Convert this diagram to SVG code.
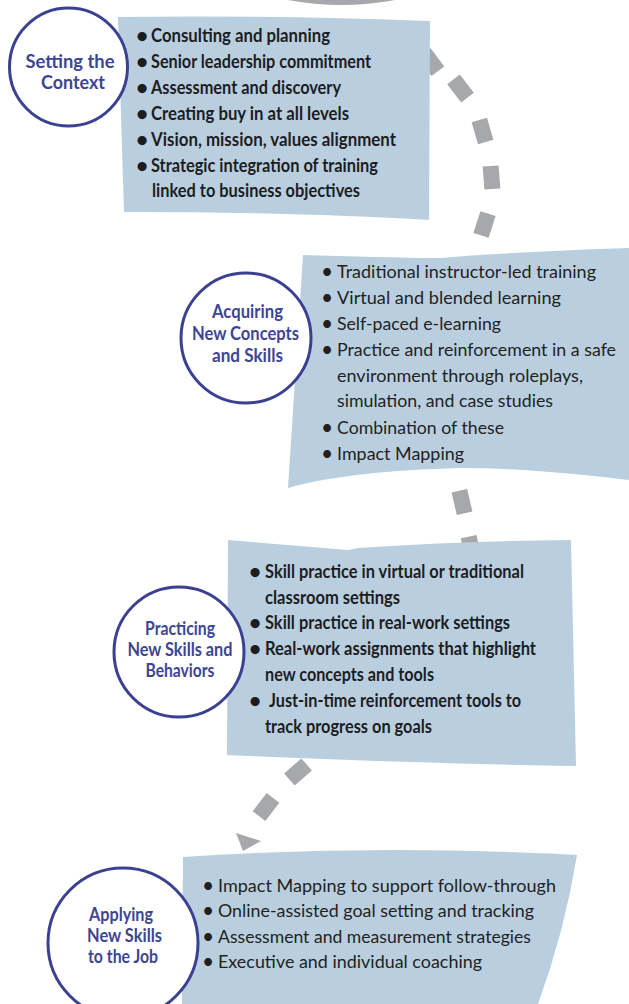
<svg xmlns="http://www.w3.org/2000/svg" width="629" height="1004" viewBox="0 0 629 1004">
<style>
.box{fill:#b9cfe0}
.ring{fill:#ffffff;stroke:#3b4191;stroke-width:3}
.lbl{font-family:Lato,"Open Sans",sans-serif;font-weight:700;font-size:18px;fill:#3d4594;text-anchor:middle}
.b{font-family:Lato,"Open Sans",sans-serif;font-weight:700;font-size:18px;fill:#1d1d1f}
.r{font-family:Lato,"Open Sans",sans-serif;font-weight:400;font-size:18px;fill:#231f20}
.bu{font-size:21px}
.dash{stroke:#a7a8ac;stroke-width:16;fill:none;stroke-linecap:butt}
.gray{fill:#a7a8ac}
</style>
<g id="connectors">
<path class="gray" d="M288,0 Q342,10 395,0 Z"/>
<path class="dash" d="M424.1,52.8 L437.9,71.2 M453.5,79.4 L467.5,97.6 M479.3,120 L485.7,142 M490.6,166 L492.4,189 M488,213.6 L481,235.4 M459.4,490.8 L464.6,513.2 M468.7,536.7 L473.3,559.3 M306.6,764.4 L289.4,779.6 M273,797.9 L259,816.1"/>
<polygon class="gray" points="236,833 261,841 243,851"/>
</g>
<g id="node-setting-context">
<path class="box" d="M118,17 Q270,15 430,21 L429,220 Q300,212 124,212 Z"/>
<circle class="ring" cx="68.5" cy="67" r="59"/>
<text class="lbl" x="70" y="68" textLength="89" lengthAdjust="spacingAndGlyphs">Setting the</text>
<text class="lbl" x="73" y="89" textLength="64" lengthAdjust="spacingAndGlyphs">Context</text>
<text class="b bu" x="136" y="43">•</text>
<text class="b" x="151" y="42" textLength="179" lengthAdjust="spacingAndGlyphs">Consulting and planning</text>
<text class="b bu" x="136" y="69">•</text>
<text class="b" x="151" y="68" textLength="220" lengthAdjust="spacingAndGlyphs">Senior leadership commitment</text>
<text class="b bu" x="136" y="95">•</text>
<text class="b" x="151" y="94" textLength="190" lengthAdjust="spacingAndGlyphs">Assessment and discovery</text>
<text class="b bu" x="136" y="121">•</text>
<text class="b" x="151" y="120" textLength="198" lengthAdjust="spacingAndGlyphs">Creating buy in at all levels</text>
<text class="b bu" x="136" y="147">•</text>
<text class="b" x="151" y="146" textLength="245" lengthAdjust="spacingAndGlyphs">Vision, mission, values alignment</text>
<text class="b bu" x="136" y="173">•</text>
<text class="b" x="151" y="172" textLength="227" lengthAdjust="spacingAndGlyphs">Strategic integration of training</text>
<text class="b" x="152" y="197" textLength="208" lengthAdjust="spacingAndGlyphs">linked to business objectives</text>
</g>
<g id="node-acquiring">
<path class="box" d="M303,255 C350,256 400,258 440,258 C500,253 570,250 629,248 L629,480 C580,474 520,468 460,468 C390,470 330,476 288,488 Z"/>
<circle class="ring" cx="246" cy="338" r="65"/>
<text class="lbl" x="247.5" y="318" textLength="71" lengthAdjust="spacingAndGlyphs">Acquiring</text>
<text class="lbl" x="245.5" y="340" textLength="107" lengthAdjust="spacingAndGlyphs">New Concepts</text>
<text class="lbl" x="247.5" y="362" textLength="71" lengthAdjust="spacingAndGlyphs">and Skills</text>
<text class="r bu" x="321" y="279">•</text>
<text class="r" x="337" y="278" textLength="259" lengthAdjust="spacingAndGlyphs">Traditional instructor-led training</text>
<text class="r bu" x="321" y="305">•</text>
<text class="r" x="337" y="304" textLength="224" lengthAdjust="spacingAndGlyphs">Virtual and blended learning</text>
<text class="r bu" x="321" y="331">•</text>
<text class="r" x="337" y="330" textLength="164" lengthAdjust="spacingAndGlyphs">Self-paced e-learning</text>
<text class="r bu" x="321" y="357">•</text>
<text class="r" x="337" y="356" textLength="279" lengthAdjust="spacingAndGlyphs">Practice and reinforcement in a safe</text>
<text class="r" x="337" y="382" textLength="246" lengthAdjust="spacingAndGlyphs">environment through roleplays,</text>
<text class="r" x="337" y="407" textLength="216" lengthAdjust="spacingAndGlyphs">simulation, and case studies</text>
<text class="r bu" x="321" y="435">•</text>
<text class="r" x="337" y="434" textLength="167" lengthAdjust="spacingAndGlyphs">Combination of these</text>
<text class="r bu" x="321" y="461">•</text>
<text class="r" x="337" y="460" textLength="127" lengthAdjust="spacingAndGlyphs">Impact Mapping</text>
</g>
<g id="node-practicing">
<path class="box" d="M228,540 L348,550 L358,548 Q460,541 571,540 L576,766 Q400,763 227,755 Z"/>
<circle class="ring" cx="179" cy="652" r="65"/>
<text class="lbl" x="180" y="635" textLength="70" lengthAdjust="spacingAndGlyphs">Practicing</text>
<text class="lbl" x="180" y="656" textLength="105" lengthAdjust="spacingAndGlyphs">New Skills and</text>
<text class="lbl" x="180" y="677" textLength="69" lengthAdjust="spacingAndGlyphs">Behaviors</text>
<text class="b bu" x="249" y="579">•</text>
<text class="b" x="265" y="578" textLength="259" lengthAdjust="spacingAndGlyphs">Skill practice in virtual or traditional</text>
<text class="b" x="265" y="604" textLength="135" lengthAdjust="spacingAndGlyphs">classroom settings</text>
<text class="b bu" x="249" y="630">•</text>
<text class="b" x="265" y="629" textLength="245" lengthAdjust="spacingAndGlyphs">Skill practice in real-work settings</text>
<text class="b bu" x="249" y="656">•</text>
<text class="b" x="265" y="655" textLength="271" lengthAdjust="spacingAndGlyphs">Real-work assignments that highlight</text>
<text class="b" x="265" y="681" textLength="169" lengthAdjust="spacingAndGlyphs">new concepts and tools</text>
<text class="b bu" x="249" y="708">•</text>
<text class="b" x="269" y="707" textLength="252" lengthAdjust="spacingAndGlyphs">Just-in-time reinforcement tools to</text>
<text class="b" x="265" y="733" textLength="167" lengthAdjust="spacingAndGlyphs">track progress on goals</text>
</g>
<g id="node-applying">
<path class="box" d="M183,857 Q380,844 577,855 Q565,930 538,1004 L182,1004 Z"/>
<circle class="ring" cx="123" cy="943" r="75"/>
<text class="lbl" x="121" y="921" textLength="64" lengthAdjust="spacingAndGlyphs">Applying</text>
<text class="lbl" x="124.5" y="942" textLength="75" lengthAdjust="spacingAndGlyphs">New Skills</text>
<text class="lbl" x="123" y="963" textLength="70" lengthAdjust="spacingAndGlyphs">to the Job</text>
<text class="r bu" x="202" y="893">•</text>
<text class="r" x="218" y="892" textLength="338" lengthAdjust="spacingAndGlyphs">Impact Mapping to support follow-through</text>
<text class="r bu" x="202" y="918">•</text>
<text class="r" x="218" y="917" textLength="316" lengthAdjust="spacingAndGlyphs">Online-assisted goal setting and tracking</text>
<text class="r bu" x="202" y="944">•</text>
<text class="r" x="218" y="943" textLength="313" lengthAdjust="spacingAndGlyphs">Assessment and measurement strategies</text>
<text class="r bu" x="202" y="969">•</text>
<text class="r" x="218" y="968" textLength="264" lengthAdjust="spacingAndGlyphs">Executive and individual coaching</text>
</g>
</svg>
